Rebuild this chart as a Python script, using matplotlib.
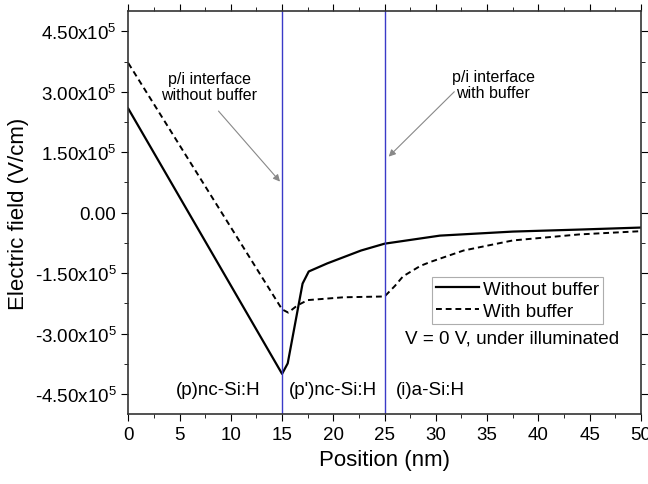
import numpy as np
import matplotlib
matplotlib.use('Agg')
import matplotlib.pyplot as plt
from matplotlib.ticker import MultipleLocator, FuncFormatter

plt.rcParams['font.family'] = ['Liberation Sans', 'DejaVu Sans']
plt.rcParams['mathtext.fontset'] = 'custom'
plt.rcParams['mathtext.rm'] = 'Liberation Sans'
plt.rcParams['mathtext.it'] = 'Liberation Sans'

# Electric field profiles (V/cm) vs position (nm)
x_wo = [0, 15, 15.55, 17.0, 17.6, 19.4, 22.7, 25, 30.4, 37.5, 44, 50]
e_wo = [2.58e5, -4.0e5, -3.74e5, -1.76e5, -1.46e5, -1.26e5, -0.94e5, -0.77e5,
        -0.57e5, -0.47e5, -0.42e5, -0.37e5]

x_w = [0, 15, 15.6, 16.5, 17.5, 21, 25, 26.0, 26.8, 28.5, 29.5, 32.7, 37.5, 44, 50]
e_w = [3.71e5, -2.40e5, -2.48e5, -2.30e5, -2.17e5, -2.10e5, -2.08e5, -1.82e5,
       -1.58e5, -1.32e5, -1.22e5, -0.94e5, -0.69e5, -0.54e5, -0.46e5]

interfaces = [15, 25]
regions = ['(p)nc-Si:H', "(p')nc-Si:H", '(i)a-Si:H']
region_x = [8.8, 19.95, 29.5]


def sci_fmt(v, pos):
    if abs(v) < 1:
        return '0.00'
    m = v / 1e5
    return '%.2fx10$^{5}$' % m


fig = plt.figure(figsize=(6.48, 4.85), dpi=100)
ax = fig.add_axes([0.198, 0.144, 0.791, 0.831])

ax.plot(x_wo, e_wo, color='black', lw=1.6, label='Without buffer')
ax.plot(x_w, e_w, color='black', lw=1.4, ls=(0, (3, 2)), label='With buffer')
for xi in interfaces:
    ax.axvline(xi, color='#3a3ac8', lw=1.0)

ax.set_xlim(0, 50)
ax.set_ylim(-5e5, 5e5)
ax.xaxis.set_major_locator(MultipleLocator(5))
ax.xaxis.set_minor_locator(MultipleLocator(2.5))
ax.yaxis.set_major_locator(MultipleLocator(1.5e5))
ax.yaxis.set_minor_locator(MultipleLocator(0.75e5))
ax.yaxis.set_major_formatter(FuncFormatter(sci_fmt))
ax.tick_params(which='both', direction='out', top=True, right=True,
               labeltop=False, labelright=False, labelsize=13.5)
ax.tick_params(which='major', length=5)
ax.tick_params(which='minor', length=3)
for s in ax.spines.values():
    s.set_linewidth(1.2)
    s.set_color('#333333')

ax.set_xlabel('Position (nm)', fontsize=16)
ax.set_ylabel('Electric field (V/cm)', fontsize=16, labelpad=4)

# interface annotations
ax.text(7.9, 3.12e5, 'p/i interface\nwithout buffer', ha='center', va='center',
        fontsize=11.5, linespacing=1.1)
ax.annotate('', xy=(14.8, 0.77e5), xytext=(8.8, 2.52e5),
            arrowprops=dict(arrowstyle='-|>', color='#888888', lw=0.8,
                            shrinkA=0, shrinkB=0, mutation_scale=10))
ax.text(35.6, 3.17e5, 'p/i interface\nwith buffer', ha='center', va='center',
        fontsize=11.5, linespacing=1.1)
ax.annotate('', xy=(25.4, 1.39e5), xytext=(31.8, 3.0e5),
            arrowprops=dict(arrowstyle='-|>', color='#888888', lw=0.8,
                            shrinkA=0, shrinkB=0, mutation_scale=10))

for lab, xr in zip(regions, region_x):
    ax.text(xr, -4.4e5, lab, ha='center', va='center', fontsize=13.5)

leg = ax.legend(loc='upper left', bbox_to_anchor=(0.593, 0.34), fontsize=13.5,
                frameon=True, fancybox=False, edgecolor='#999999',
                handlelength=2.3, handletextpad=0.2, borderpad=0.2,
                labelspacing=0.25, borderaxespad=0)
leg.get_frame().set_linewidth(0.8)
ax.text(37.4, -3.12e5, 'V = 0 V, under illuminated', ha='center', va='center',
        fontsize=13.6)

fig.savefig('out.png', dpi=100)
